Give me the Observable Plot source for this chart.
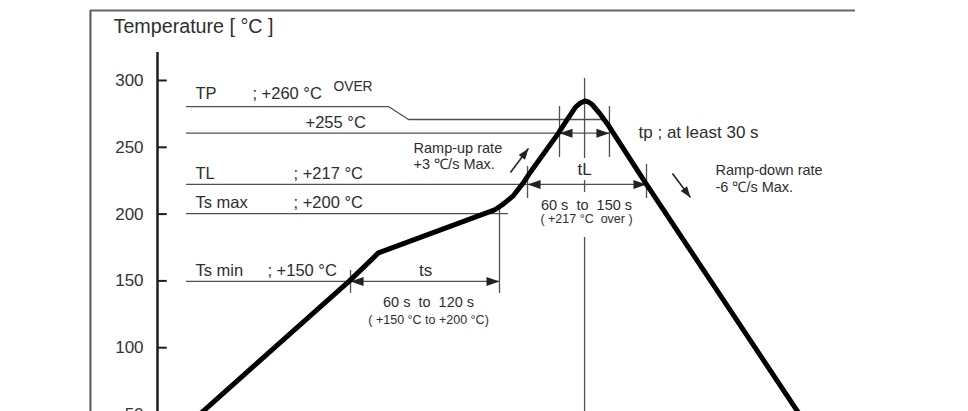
<!DOCTYPE html>
<html><head><meta charset="utf-8">
<script src="https://cdn.jsdelivr.net/npm/d3@7"></script>
<script src="https://cdn.jsdelivr.net/npm/@observablehq/plot@0.6"></script>
<style>
body{margin:0;background:#fff;overflow:hidden}
svg{display:block}
</style>
</head><body><div id="chart"></div>
<script>
// Reflow profile (schematic time in s, temperature in °C as drawn)
const profileTime = [18, 128, 147.3, 218, 224.7, 230.7, 237.3, 243.3, 247.7, 267.3, 272, 278.7, 282, 284.9, 287.3, 289.8, 295.3, 300.9, 326, 434];
const profileTemp = [40, 150, 171, 200.4, 203.1, 207.6, 213.9, 222.5, 230.0, 260.6, 268.8, 280.0, 283.2, 284.7, 283.9, 282.0, 274.6, 265.9, 222.2, 40];

// Y axis ticks
const tickValues = [50, 100, 150, 200, 250, 300];
const tickLabels = ["50", "100", "150", "200", "250", "300"];

// Reference level lines (+255, TL, Ts max, Ts min)
const levelStart = 19.3;
const levelTemp = [260.6, 222.2, 200.4, 149.6];
const levelEnd = [301.3, 326, 234, 228];

// TP line with step
const tpLineTime = [19.3, 154, 167.3, 297.3];
const tpLineTemp = [280.5, 280.5, 270.8, 270.8];

// Double-headed dimension arrows: tp, tL, ts
const dimFrom = [268, 246.7, 128.7];
const dimTo = [301.3, 326, 228];
const dimTemp = [260.6, 222.2, 149.6];

// Vertical extension lines
const extTime = [128.7, 228, 246.7, 326, 268, 301.3, 284.7, 284.7, 284.7];
const extTop = [157.8, 205, 235.6, 237.1, 280.5, 280.5, 301.5, 225.1, 182.5];
const extBottom = [140.6, 140.6, 211.7, 211.7, 242.4, 242.4, 241.6, 216.2, 40];

// Ramp arrows
const rampFromTime = [235.3, 343.3];
const rampFromTemp = [231.1, 230.4];
const rampToTime = [247.3, 355.3];
const rampToTemp = [249.1, 212.4];

// Frame and axis extents
const frameLeft = -44.7, frameTop = 352.4, frameRight = 465.3, axisTop = 321, bottomTemp = 0;

// Labels
const levelLabelText = ["TP", "; +260 °C", "+255 °C", "TL", "; +217 °C", "Ts max", "; +200 °C", "Ts min", "; +150 °C"];
const levelLabelTime = [25.3, 63.3, 98.7, 25.3, 90.7, 25.3, 90.7, 25.3, 73.3];
const levelLabelTemp = [285.8, 285.8, 264.8, 225.9, 225.9, 204.2, 204.2, 153.3, 153.3];

const overText = ["OVER"], overTime = [117.3], overTemp = [292.5];

const bigMidText = ["ts", "tL"], bigMidTime = [178.7, 284.7], bigMidTemp = [154, 228.9];
const tpText = ["tp ; at least 30 s"], tpTime = [320.7], tpTemp = [256.6];

const rangeText = ["60 s  to  120 s", "60 s  to  150 s"], rangeTime = [180.7, 286], rangeTemp = [130.1, 202.7];
const noteText = ["( +150 °C to +200 °C)", "( +217 °C  over )"], noteTime = [180.7, 286], noteTemp = [118.1, 193];

const rampText = ["Ramp-up rate", "+3 ℃/s Max.", "Ramp-down rate", "-6 ℃/s Max."];
const rampTextTime = [170.7, 170.7, 372, 372];
const rampTextTemp = [246.1, 234.1, 228.9, 216.2];

const titleText = ["Temperature [ °C ]"], titleTime = [-29.3], titleTemp = [335.2];

// ---------- build ----------
const xDomain = [0, 540], xRange = [157, 967];
const yDomain = [50, 300], yRange = [414, 80];
const X = d3.scaleLinear(xDomain, xRange), Y = d3.scaleLinear(yDomain, yRange);

const zipXY = (xs, ys) => xs.map((x, i) => ({x, y: ys[i]}));
const profile = zipXY(profileTime, profileTemp);
const tpLine = zipXY(tpLineTime, tpLineTemp);
const levels = levelTemp.map((T, i) => ({x1: levelStart, x2: levelEnd[i], y: T}));
const dims = dimFrom.map((a, i) => ({x1: a, x2: dimTo[i], y: dimTemp[i]}));
const heads = dims.flatMap(d => [{x: d.x1, y: d.y, r: -90}, {x: d.x2, y: d.y, r: 90}]);
const exts = extTime.map((x, i) => ({x, y1: extTop[i], y2: extBottom[i]}));
const ramps = rampFromTime.map((x, i) => ({x1: x, y1: rampFromTemp[i], x2: rampToTime[i], y2: rampToTemp[i]}));
const rampHeads = ramps.map(d => {
  const dx = X(d.x2) - X(d.x1), dy = Y(d.y2) - Y(d.y1);
  return {x: d.x2, y: d.y2, r: Math.atan2(dx, -dy) * 180 / Math.PI};
});
const labels = (t, xs, ys) => t.map((s, i) => ({s: s.replace(/ /g, "\u00a0"), x: xs[i], y: ys[i]}));

const arrowSymbol = (L, W) => ({
  draw(ctx) { ctx.moveTo(0, 0); ctx.lineTo(-W / 2, L); ctx.lineTo(W / 2, L); ctx.closePath(); }
});

const font = "'Liberation Sans', Arial, Helvetica, sans-serif";
const textColor = "#2e2e2e";
const lineColor = "#505050";

const txt = (data, opts) => Plot.text(data, {x: "x", y: "y", text: "s", fill: textColor, lineAnchor: "bottom", fontFamily: font, ...opts});

const chart = Plot.plot({
  width: 968,
  height: 411,
  x: {domain: xDomain, range: xRange, axis: null},
  y: {domain: yDomain, range: yRange, axis: null},
  style: {fontFamily: font, background: "#fff"},
  marks: [
    // frame
    Plot.ruleX([frameLeft], {y1: frameTop, y2: bottomTemp, stroke: "#555", strokeWidth: 2}),
    Plot.ruleY([frameTop], {x1: frameLeft, x2: frameRight, stroke: "#666", strokeWidth: 2}),
    // axis
    Plot.ruleX([0], {y1: axisTop, y2: bottomTemp, stroke: "#1e1e1e", strokeWidth: 2.5}),
    Plot.ruleY(tickValues, {x1: 0, x2: 6.5, stroke: "#1e1e1e", strokeWidth: 2}),
    Plot.text(tickValues, {x: -9.3, y: d => d, text: (d, i) => tickLabels[i], textAnchor: "end", fontSize: 17, fill: "#333", fontFamily: font}),
    // reference lines
    Plot.line(tpLine, {x: "x", y: "y", stroke: lineColor, strokeWidth: 1.3}),
    Plot.ruleY(levels, {x1: "x1", x2: "x2", y: "y", stroke: lineColor, strokeWidth: 1.3}),
    Plot.ruleX(exts, {x: "x", y1: "y1", y2: "y2", stroke: lineColor, strokeWidth: 1.3}),
    Plot.dot(heads, {x: "x", y: "y", rotate: "r", symbol: arrowSymbol(13, 9), fill: "#222", stroke: "none"}),
    // ramp arrows
    Plot.link(ramps, {x1: "x1", y1: "y1", x2: "x2", y2: "y2", stroke: "#222", strokeWidth: 1.6}),
    Plot.dot(rampHeads, {x: "x", y: "y", rotate: "r", symbol: arrowSymbol(11, 8), fill: "#222", stroke: "none"}),
    // profile curve
    Plot.line(profile, {x: "x", y: "y", stroke: "#000", strokeWidth: 5, strokeLinejoin: "round", strokeLinecap: "butt"}),
    // texts
    txt(labels(titleText, titleTime, titleTemp), {textAnchor: "start", fontSize: 19.7}),
    txt(labels(levelLabelText, levelLabelTime, levelLabelTemp), {textAnchor: "start", fontSize: 16.5}),
    txt(labels(overText, overTime, overTemp), {textAnchor: "start", fontSize: 13.8}),
    txt(labels(bigMidText, bigMidTime, bigMidTemp), {textAnchor: "middle", fontSize: 17}),
    txt(labels(tpText, tpTime, tpTemp), {textAnchor: "start", fontSize: 17}),
    txt(labels(rangeText, rangeTime, rangeTemp), {textAnchor: "middle", fontSize: 14.5}),
    txt(labels(noteText, noteTime, noteTemp), {textAnchor: "middle", fontSize: 12.5}),
    txt(labels(rampText, rampTextTime, rampTextTemp), {textAnchor: "start", fontSize: 14.5})
  ]
});
document.getElementById("chart").appendChild(chart);
</script>
</body></html>
